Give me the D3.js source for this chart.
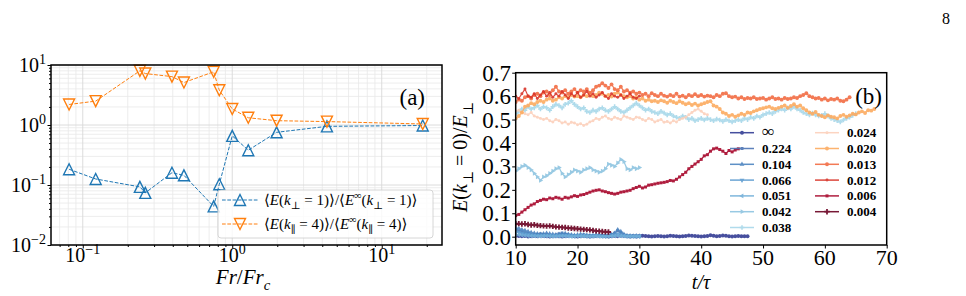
<!DOCTYPE html>
<html lang="en">
<head>
<meta charset="utf-8">
<script src="https://cdn.jsdelivr.net/npm/d3@7"></script>
<style>
  body { margin: 0; background: #fff; }
  svg text { fill: #000; }
</style>
</head>
<body>
<svg id="fig" width="966" height="296" font-family="Liberation Serif, DejaVu Serif, serif"></svg>
<script>
// ---- panel (a) data
var frRatio = [0.081, 0.122, 0.241, 0.262, 0.395, 0.475, 0.751, 0.819, 1.0, 1.28, 1.98, 4.3, 18.8];
var ePerpRatio = [0.183, 0.126, 0.093, 0.074, 0.16, 0.145, 0.044, 0.103, 0.66, 0.38, 0.755, 0.95, 0.98];
var eParRatio = [2.2, 2.5, 8.0, 7.2, 6.4, 5.1, 7.7, 3.8, 1.85, 1.32, 1.18, 1.14, 1.04];
var aXTicks = [0.1, 1, 10];
var aYTicks = [0.01, 0.1, 1, 10];

// ---- panel (b) data, t/tau = 10, 10.5, 11, ...
var tStart = 10, tStep = 0.5;
var bXTicks = [10, 20, 30, 40, 50, 60, 70];
var bYTicks = [0, 0.1, 0.2, 0.3, 0.4, 0.5, 0.6, 0.7];
var legendLabels = ["∞", "0.224", "0.104", "0.066", "0.051", "0.042", "0.038",
                    "0.024", "0.020", "0.013", "0.012", "0.006", "0.004"];

var sInf = [.004,.003,.002,.003,.001,.002,.003,.002,.004,.003,.002,.001,.002,.003,.002,.001,.002,.003,.004,.002,
  .001,.002,.003,.002,.001,.002,.003,.004,.003,.002,.001,.002,.003,.002,.004,.003,.002,.001,.002,.001,
  .002,.004,.003,.002,.001,.002,.003,.002,.001,.002,.004,.003,.002,.001,.002,.003,.005,.004,.003,.002,
  .001,.002,.003,.006,.004,.002,.003,.005,.004,.002,.001,.002,.003,.002,.002,.002];
var s0224 = [.030,.025,.020,.015,.012,.010,.008,.010,.012,.010,.008,.006,.005,.008,.012,.015,.010,.008,.006,.005,
  .004,.006,.008,.006,.005,.004,.005,.006,.005,.004,.006,.010,.015,.025,.018,.008,.004,.003,.004,.003,.003];
var s0104 = [.038,.035,.030,.026,.022,.018,.015,.012,.010,.012,.015,.012,.010,.008,.010,.012,.014,.010,.008,.006,
  .008,.010,.008,.006,.005,.006,.008,.006,.005,.004,.005,.008,.015,.030,.022,.010,.005,.004,.003,.004,.003];
var s0066 = [.020,.018,.015,.012,.010,.008,.006,.005,.004,.005,.006,.005,.004,.003,.004,.005,.006,.004,.003,.003,
  .004,.005,.004,.003,.002,.003,.004,.003,.002,.002,.003,.005,.008,.012,.008,.004,.002,.002,.002,.002,.002];
var s0051 = [.010,.008,.006,.005,.004,.003,.003,.002,.002,.003,.002,.002,.001,.002,.002,.003,.002,.002,.001,.001,
  .002,.002,.002,.001,.001,.001,.002,.001,.001,.001,.001,.002,.003,.004,.003,.002,.001,.001,.001,.001,.001];
var s0042 = [.280,.290,.300,.305,.295,.285,.270,.255,.240,.255,.260,.270,.280,.290,.295,.270,.255,.265,.275,.285,
  .280,.275,.285,.290,.295,.285,.280,.275,.280,.290,.310,.305,.300,.315,.330,.320,.290,.285,.295,.290,.295];
var s0038 = [.525,.535,.545,.540,.555,.545,.550,.560,.545,.555,.550,.540,.555,.565,.560,.550,.565,.570,.580,.565,
  .555,.545,.550,.535,.530,.540,.535,.545,.550,.540,.535,.545,.555,.545,.535,.530,.540,.550,.560,.570,
  .560,.550,.540,.545,.535,.530,.525,.535,.528,.520,.525,.515,.510,.505,.515,.510,.500,.505,.495,.500,
  .505,.498,.505,.500,.495,.502,.498,.492,.500,.495,.490,.495,.500,.495,.505,.500,.510,.505,.515,.510,
  .520,.525,.530,.525,.535,.540,.545,.540,.550,.545,.555,.545,.540,.530,.525,.520,.528,.520,.515,.518,
  .525,.515,.505,.500,.495,.490,.498,.505,.510,.518,.525];
var s0024 = [.535,.540,.530,.525,.520,.530,.515,.510,.505,.500,.505,.495,.490,.500,.495,.485,.490,.480,.488,.485,
  .478,.482,.475,.480,.490,.495,.505,.500,.510,.515,.505,.500,.510,.505,.500,.515,.510,.505,.500,.510,
  .508,.500,.495,.505,.500,.490,.495,.500,.488,.492,.485,.495,.490,.500,.505,.510,.520,.530,.540,.545,
  .535,.525,.520];
var s0020 = [.505,.515,.530,.555,.560,.570,.565,.575,.580,.575,.585,.590,.580,.585,.595,.590,.600,.595,.605,.598,
  .600,.595,.605,.600,.610,.600,.605,.615,.610,.600,.605,.598,.610,.615,.605,.600,.595,.600,.590,.595,
  .585,.590,.580,.585,.578,.580,.575,.582,.578,.572,.580,.575,.570,.578,.572,.565,.570,.562,.568,.560,
  .565,.570,.575,.578,.560,.555,.545,.530,.525,.515,.520,.512,.518,.525,.520,.530,.528,.535,.540,.545,
  .548,.552,.555,.548,.545,.550,.555,.560,.550,.558,.565,.555,.560,.548,.540,.530,.525,.532,.520,.515,
  .510,.518,.512,.510,.505,.515,.520,.512,.518,.525,.522,.530,.535,.528,.540,.538,.545];
var s0013 = [.575,.585,.580,.595,.600,.590,.605,.610,.600,.615,.620,.605,.625,.640,.620,.615,.625,.610,.620,.630,
  .615,.625,.620,.630,.615,.625,.640,.645,.655,.645,.635,.650,.630,.625,.640,.620,.625,.615,.620,.610,
  .615,.605,.610,.600,.612,.605,.600,.610,.602,.598,.605,.600,.610,.598,.602,.595,.605,.600,.608,.600,
  .605,.598,.602,.600,.595,.605,.600,.610,.612,.600,.595,.598,.590,.595,.588,.592,.590,.595,.588,.590,
  .592,.585,.590,.595,.588,.590,.585,.592,.588,.590,.595,.592,.600,.605,.612,.600,.595,.590,.592,.585,
  .590,.582,.588,.585,.590,.580,.578,.585,.595];
var s0012 = [.600,.590,.610,.630,.600,.595,.610,.590,.605,.620,.600,.615,.595,.610,.600,.620,.605,.590,.610,.600,
  .615,.595,.605,.620,.600,.610,.595,.605,.615,.600,.590,.610,.600,.595,.605,.590,.600,.610,.595,.590,.600];
var s0006 = [.090,.095,.105,.115,.125,.135,.140,.150,.155,.160,.158,.165,.162,.168,.165,.160,.168,.165,.170,.175,
  .172,.178,.180,.185,.190,.195,.198,.200,.195,.192,.188,.185,.182,.185,.190,.192,.195,.198,.205,.210,
  .215,.208,.212,.220,.222,.225,.228,.230,.232,.235,.240,.238,.245,.255,.265,.275,.290,.300,.310,.320,
  .330,.345,.350,.365,.375,.378,.372,.365,.355,.368,.362,.370,.375];
var s0004 = [.055,.056,.054,.055,.052,.050,.051,.048,.047,.046,.045,.046,.044,.042,.041,.040,.039,.037,.036,.035,
  .034,.032,.031,.030,.029,.027,.025,.024,.022,.021,.020];

var bSeries = [sInf, s0224, s0104, s0066, s0051, s0042, s0038, s0024, s0020, s0013, s0012, s0006, s0004];
var bColors = ["#333c94", "#4c74b4", "#4d84c0", "#5c9bd0", "#72afd9", "#8dc4e0", "#a8d8ea",
               "#fcd0bb", "#fcab60", "#f26c43", "#d93328", "#a7052a", "#6a0021"];
var bMarkers = ["circle", "square", "up", "down", "left", "right", "plus",
                "dot", "circle", "circle", "dot", "square", "cross"];

var svg = d3.select("#fig");

// text with italics, sub and superscripts
function richText(t, parts, size) {
  var shift = 0;
  parts.forEach(function(p) {
    var kind = p[1] || "";
    var target = 0;
    if (kind.indexOf("sub") >= 0) target = size * 0.28;
    if (kind.indexOf("sup") >= 0) target = -size * 0.4;
    var s = t.append("tspan").text(p[0]).attr("dy", target - shift);
    shift = target;
    if (kind.charAt(0) === "i") s.attr("font-style", "italic");
    if (target !== 0) s.attr("font-size", size * 0.7);
  });
}

function powLabel(t, v, size) {
  var e = Math.round(Math.log10(v));
  richText(t, [["10"], [e < 0 ? "\u2212" + (-e) : "" + e, "sup"]], size);
}

/* ---------------- panel (a) ---------------- */
var aL = 51, aR = 442, aT = 65, aB = 245;
var xA = d3.scaleLog().domain([0.0613, 25.3]).range([aL, aR]);
var yA = d3.scaleLog().domain([0.01, 10]).range([aB, aT]);

var ga = svg.append("g");

// grid, minor then major
var xMinor = xA.ticks().filter(function(d) { return aXTicks.indexOf(d) < 0; });
var yMinor = yA.ticks().filter(function(d) { return aYTicks.indexOf(d) < 0; });
ga.selectAll(".gxm").data(xMinor).enter().append("line")
  .attr("x1", xA).attr("x2", xA).attr("y1", aT).attr("y2", aB)
  .attr("stroke", "#e8e8e8").attr("stroke-width", 0.8);
ga.selectAll(".gym").data(yMinor).enter().append("line")
  .attr("x1", aL).attr("x2", aR).attr("y1", yA).attr("y2", yA)
  .attr("stroke", "#e8e8e8").attr("stroke-width", 0.8);
ga.selectAll(".gx").data(aXTicks).enter().append("line")
  .attr("x1", xA).attr("x2", xA).attr("y1", aT).attr("y2", aB)
  .attr("stroke", "#d8d8d8").attr("stroke-width", 0.9);
ga.selectAll(".gy").data(aYTicks).enter().append("line")
  .attr("x1", aL).attr("x2", aR).attr("y1", yA).attr("y2", yA)
  .attr("stroke", "#d8d8d8").attr("stroke-width", 0.9);

// ticks
function ticksOnly(g) { g.select(".domain").remove(); g.selectAll("text").remove(); }
ga.append("g").attr("transform", "translate(0," + aB + ")")
  .call(d3.axisBottom(xA).tickValues(xMinor).tickSize(2)).call(ticksOnly);
ga.append("g").attr("transform", "translate(0," + aB + ")")
  .call(d3.axisBottom(xA).tickValues(aXTicks).tickSize(3.5)).call(ticksOnly);
ga.append("g").attr("transform", "translate(" + aL + ",0)")
  .call(d3.axisLeft(yA).tickValues(yMinor).tickSize(2)).call(ticksOnly);
ga.append("g").attr("transform", "translate(" + aL + ",0)")
  .call(d3.axisLeft(yA).tickValues(aYTicks).tickSize(3.5)).call(ticksOnly);

aXTicks.forEach(function(v) {
  var t = ga.append("text").attr("x", xA(v)).attr("y", 262).attr("text-anchor", "middle")
    .attr("font-size", 20);
  powLabel(t, v, 20);
});
aYTicks.forEach(function(v) {
  var t = ga.append("text").attr("x", 46).attr("y", yA(v) + 7).attr("text-anchor", "end")
    .attr("font-size", 20);
  powLabel(t, v, 20);
});

function triPath(r, up) {
  var s = up ? 1 : -1;
  return "M0," + (-s * r) + "L" + (-r) + "," + (s * r) + "L" + r + "," + (s * r) + "Z";
}

function drawSeriesA(vals, color, up) {
  var line = d3.line().x(function(d, i) { return xA(frRatio[i]); }).y(function(d) { return yA(d); });
  ga.append("path").datum(vals).attr("d", line).attr("fill", "none")
    .attr("stroke", color).attr("stroke-width", 1).attr("stroke-dasharray", "3.7,1.6");
  ga.selectAll(null).data(vals).enter().append("path")
    .attr("transform", function(d, i) { return "translate(" + xA(frRatio[i]) + "," + yA(d) + ")"; })
    .attr("d", triPath(5.5, up)).attr("fill", "none").attr("stroke", color).attr("stroke-width", 1.4);
}
drawSeriesA(ePerpRatio, "#1f77b4", true);
drawSeriesA(eParRatio, "#ff7f0e", false);

ga.append("rect").attr("x", aL).attr("y", aT).attr("width", aR - aL).attr("height", aB - aT)
  .attr("fill", "none").attr("stroke", "#000").attr("stroke-width", 1.5);

ga.append("text").attr("x", 425).attr("y", 105).attr("text-anchor", "end")
  .attr("font-size", 23).text("(a)");

var xla = ga.append("text").attr("x", 243).attr("y", 284).attr("text-anchor", "middle").attr("font-size", 21);
richText(xla, [["Fr", "i"], ["/"], ["Fr", "i"], ["c", "isub"]], 21);

// legend (a)
var lg = ga.append("g");
lg.append("rect").attr("x", 218).attr("y", 190).attr("width", 215).attr("height", 48).attr("rx", 3)
  .attr("fill", "#fff").attr("fill-opacity", 0.8).attr("stroke", "#cccccc").attr("stroke-width", 0.8);
var legA = [
  { color: "#1f77b4", up: true, parts: [["\u27e8"], ["E", "i"], ["("], ["k", "i"], ["\u22a5", "sub"], [" = 1)\u27e9/\u27e8"],
      ["E", "i"], ["\u221e", "sup"], ["("], ["k", "i"], ["\u22a5", "sub"], [" = 1)\u27e9"]] },
  { color: "#ff7f0e", up: false, parts: [["\u27e8"], ["E", "i"], ["("], ["k", "i"], ["\u2225", "sub"], [" = 4)\u27e9/\u27e8"],
      ["E", "i"], ["\u221e", "sup"], ["("], ["k", "i"], ["\u2225", "sub"], [" = 4)\u27e9"]] }
];
legA.forEach(function(d, i) {
  var y = 200 + i * 24;
  lg.append("line").attr("x1", 222).attr("x2", 258).attr("y1", y).attr("y2", y)
    .attr("stroke", d.color).attr("stroke-dasharray", "3.7,1.6");
  lg.append("path").attr("transform", "translate(240," + y + ")").attr("d", triPath(5.5, d.up))
    .attr("fill", "none").attr("stroke", d.color).attr("stroke-width", 1.4);
  var t = lg.append("text").attr("x", 264).attr("y", y + 5).attr("font-size", 15);
  richText(t, d.parts, 15);
});

/* ---------------- panel (b) ---------------- */
var bL = 515.7, bR = 886.7, bT = 72.7, bB = 245;
var xB = d3.scaleLinear().domain([10, 70]).range([bL, bR]);
var yB = d3.scaleLinear().domain([-0.0355, 0.7]).range([bB, bT]);
var gb = svg.append("g");

gb.append("g").attr("transform", "translate(0," + bB + ")")
  .call(d3.axisBottom(xB).tickValues(bXTicks).tickSize(3.5)).call(ticksOnly);
gb.append("g").attr("transform", "translate(" + bL + ",0)")
  .call(d3.axisLeft(yB).tickValues(bYTicks).tickSize(3.5)).call(ticksOnly);

gb.selectAll(".xl").data(bXTicks).enter().append("text")
  .attr("x", xB).attr("y", 265).attr("text-anchor", "middle").attr("font-size", 22)
  .text(function(d) { return d; });
gb.selectAll(".yl").data(bYTicks).enter().append("text")
  .attr("x", 511).attr("y", function(d) { return yB(d) + 8; }).attr("text-anchor", "end")
  .attr("font-size", 23).text(function(d) { return d.toFixed(1); });

function markerPath(kind) {
  var sym = d3.symbol();
  if (kind === "circle") return sym.type(d3.symbolCircle).size(12)();
  if (kind === "dot") return sym.type(d3.symbolCircle).size(7)();
  if (kind === "square") return sym.type(d3.symbolSquare).size(9)();
  if (kind === "plus") return sym.type(d3.symbolCross).size(12)();
  if (kind === "cross") return sym.type(d3.symbolCross).size(16)();
  return sym.type(d3.symbolTriangle).size(10)();
}
function markerRot(kind) {
  return { down: 180, left: -90, right: 90 }[kind] || 0;
}

var tOf = function(i) { return tStart + i * tStep; };
gb.append("clipPath").attr("id", "clipb").append("rect")
  .attr("x", bL).attr("y", bT).attr("width", bR - bL).attr("height", bB - bT);
var plot = gb.append("g").attr("clip-path", "url(#clipb)");

bSeries.forEach(function(vals, k) {
  var line = d3.line().x(function(d, i) { return xB(tOf(i)); }).y(function(d) { return yB(d); });
  var g = plot.append("g").attr("opacity", 0.9);
  g.append("path").datum(vals).attr("d", line).attr("fill", "none")
    .attr("stroke", bColors[k]).attr("stroke-width", 1.2);
  g.selectAll("path.m").data(vals).enter().append("path").attr("class", "m")
    .attr("transform", function(d, i) {
      return "translate(" + xB(tOf(i)) + "," + yB(d) + ") rotate(" + markerRot(bMarkers[k]) + ")";
    })
    .attr("d", markerPath(bMarkers[k]))
    .attr("fill", bColors[k]);
});

gb.append("rect").attr("x", bL).attr("y", bT).attr("width", bR - bL).attr("height", bB - bT)
  .attr("fill", "none").attr("stroke", "#000").attr("stroke-width", 1.5);

gb.append("text").attr("x", 882).attr("y", 104).attr("text-anchor", "end")
  .attr("font-size", 23).text("(b)");

gb.append("text").attr("x", 701).attr("y", 289).attr("text-anchor", "middle").attr("font-size", 20)
  .attr("font-style", "italic").text("t/\u03c4");

var ylb = gb.append("text").attr("transform", "translate(467,157) rotate(-90)")
  .attr("text-anchor", "middle").attr("font-size", 20);
richText(ylb, [["E", "i"], ["("], ["k", "i"], ["\u22a5", "sub"], [" = 0)/"], ["E", "i"], ["\u22a5", "sub"]], 20);

// legend (b), two columns
legendLabels.forEach(function(lab, k) {
  var col = k < 7 ? 0 : 1, row = k < 7 ? k : k - 7;
  var x0 = col === 0 ? 730 : 815, y = 132.7 + row * 15.8;
  var g = gb.append("g").attr("opacity", 0.9);
  g.append("line").attr("x1", x0).attr("x2", x0 + 24).attr("y1", y).attr("y2", y)
    .attr("stroke", bColors[k]).attr("stroke-width", 1.5);
  g.append("path").attr("transform", "translate(" + (x0 + 12) + "," + y + ") rotate(" + markerRot(bMarkers[k]) + ")")
    .attr("d", markerPath(bMarkers[k])).attr("fill", bColors[k]);
  gb.append("text").attr("x", x0 + 32).attr("y", y + 4.5)
    .attr("font-size", lab === "\u221e" ? 17 : 13).attr("font-weight", "bold")
    .text(lab);
});

// page number
svg.append("text").attr("x", 946).attr("y", 24).attr("text-anchor", "middle")
  .attr("font-size", 16).text("8");
</script>
</body>
</html>
